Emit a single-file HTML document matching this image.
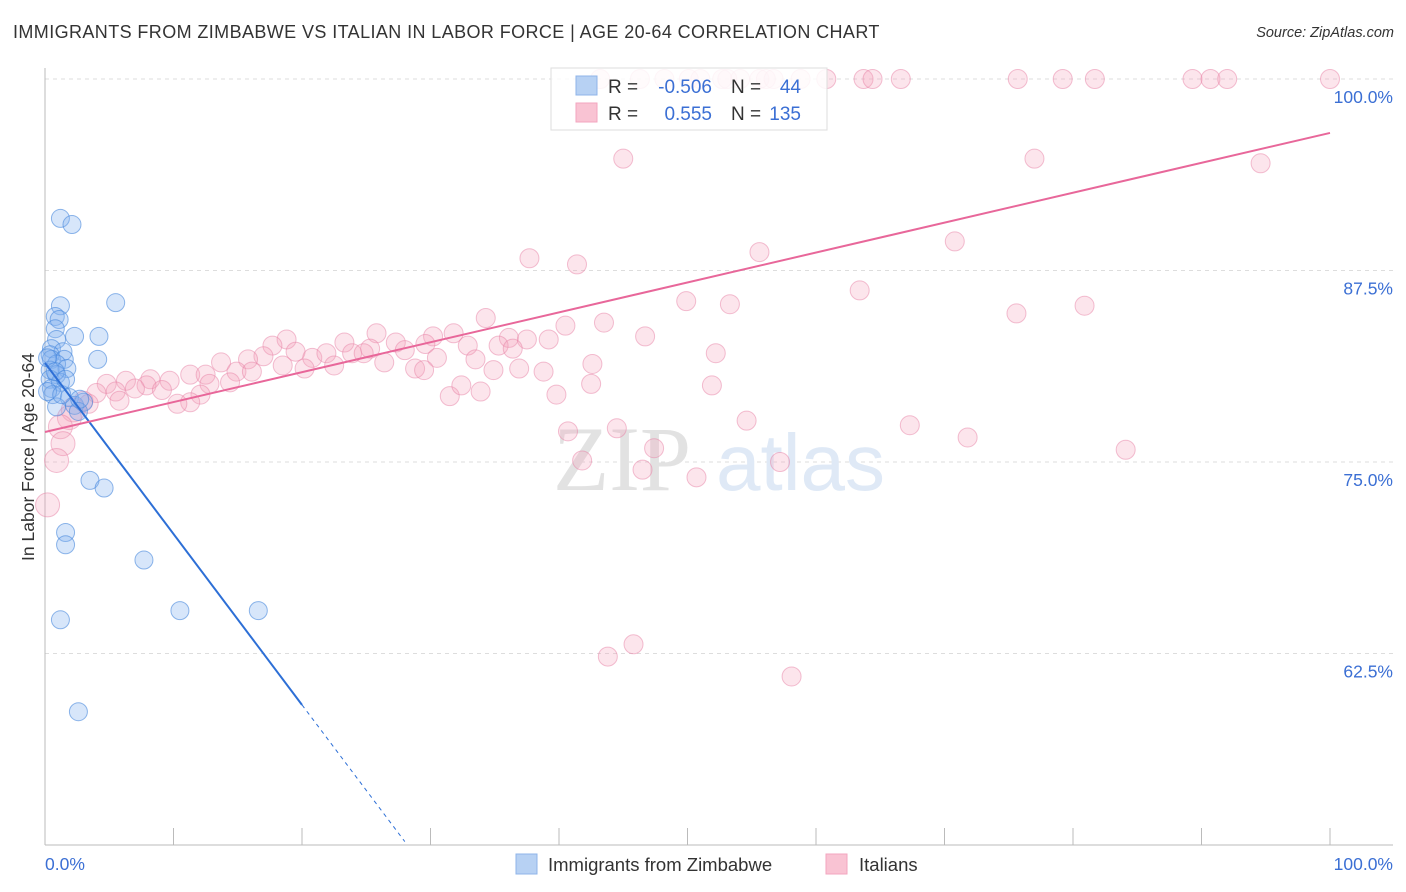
<!DOCTYPE html>
<html><head><meta charset="utf-8">
<style>
body{margin:0;background:#fff;font-family:"Liberation Sans",sans-serif;}
#wrap{position:relative;width:1406px;height:892px;overflow:hidden;}
.title{position:absolute;left:13px;top:22px;font-size:18px;color:#333;letter-spacing:0.4px;white-space:nowrap;}
.source{position:absolute;right:12px;top:25px;font-size:14.5px;color:#333;font-style:italic;}
</style></head>
<body>
<div id="wrap">
<div class="title">IMMIGRANTS FROM ZIMBABWE VS ITALIAN IN LABOR FORCE | AGE 20-64 CORRELATION CHART</div>
<div class="source">Source: ZipAtlas.com</div>
<svg id="chart" width="1406" height="892" style="position:absolute;left:0;top:0"></svg>
</div>
<script>
const yTicks=[100,87.5,75,62.5];
const yTickLabels=["100.0%","87.5%","75.0%","62.5%"];
const xTickValues=[0,10,20,30,40,50,60,70,80,90,100];
const blueX=[1.2,2.1,5.5,1.2,0.8,1.1,0.8,2.3,4.2,0.9,0.5,1.4,0.4,4.1,0.5,1.5,0.9,1.7,0.4,0.9,0.4,1.2,0.5,0.6,1.9,0.9,2.3,3.0,2.6,3.5,4.6,1.6,1.6,7.7,10.5,16.6,1.2,2.6,0.2,0.8,0.2,1.3,1.6,2.7];
const blueY=[90.9,90.5,85.4,85.2,84.5,84.3,83.7,83.2,83.2,83.0,82.4,82.2,82.0,81.7,81.7,81.7,81.4,81.1,81.0,80.7,80.4,80.2,79.8,79.4,79.2,78.6,78.7,78.9,78.3,73.8,73.3,70.4,69.6,68.6,65.3,65.3,64.7,58.7,81.8,80.9,79.6,79.4,80.4,79.1];
const pinkX=[50.1,51.0,52.7,53.1,54.1,55.6,56.1,56.7,58.8,60.8,63.7,64.4,66.6,75.7,79.2,81.7,89.3,90.7,92.0,100,43.2,46.3,48.2,
45.0,77.0,94.6,70.8,55.6,37.7,41.4,63.4,49.9,53.3,80.9,75.6,34.3,43.5,40.5,31.8,46.7,30.2,25.8,18.8,23.3,36.1,17.7,37.5,39.2,27.3,29.6,32.9,35.3,25.3,28.0,36.4,52.2,17.0,19.5,20.8,21.9,23.9,24.8,30.5,13.7,15.8,33.5,42.6,18.5,20.2,22.5,26.4,28.8,29.5,34.9,36.9,38.8,11.3,12.5,14.9,16.1,12.8,14.4,8.2,6.3,4.8,9.7,7.9,7.0,9.1,4.0,5.5,12.1,11.3,10.3,31.5,33.9,32.4,39.8,42.5,51.9,3.0,5.8,3.4,2.2,1.9,1.2,1.4,0.9,0.2,40.7,44.5,47.4,54.6,67.3,71.8,84.1,41.8,46.5,50.7,57.2,43.8,45.8,58.1];
const pinkY=[100,100,100,100,100,100,100,100,100,100,100,100,100,100,100,100,100,100,100,100,100,100,100,
94.8,94.8,94.5,89.4,88.7,88.3,87.9,86.2,85.5,85.3,85.2,84.7,84.4,84.1,83.9,83.4,83.2,83.2,83.4,83.0,82.8,83.1,82.6,83.0,83.0,82.8,82.7,82.6,82.6,82.4,82.3,82.4,82.1,81.9,82.2,81.8,82.1,82.1,82.1,81.8,81.5,81.7,81.7,81.4,81.3,81.1,81.3,81.5,81.1,81.0,81.0,81.1,80.9,80.7,80.7,80.9,80.9,80.1,80.2,80.4,80.3,80.1,80.3,80.0,79.8,79.7,79.5,79.6,79.4,78.9,78.8,79.3,79.6,80.0,79.4,80.1,80.0,79.0,79.0,78.8,78.4,77.9,77.3,76.2,75.1,72.2,77.0,77.2,75.9,77.7,77.4,76.6,75.8,75.1,74.5,74.0,75.0,62.3,63.1,61.0];
const blueFit=[81.46,-30.1];
const pinkFit=[76.96,96.48];

const X0=45,X1=1330,Y100=79,PX_PER=191.5/12.5;
const sx=v=>X0+(X1-X0)*v/100;
const sy=v=>Y100+(100-v)*PX_PER;
const svg=document.getElementById('chart');
const NS='http://www.w3.org/2000/svg';
function mk(tag,attrs,parent){const e=document.createElementNS(NS,tag);for(const k in attrs)e.setAttribute(k,attrs[k]);(parent||svg).appendChild(e);return e;}

yTicks.forEach((t,i)=>{
  const g=mk('line',{x1:X0,x2:1393,y1:sy(t),y2:sy(t),stroke:'#ddd','stroke-dasharray':'4,4','stroke-width':1});
  
  
  const tl=mk('text',{x:1393,y:sy(t)+24,'text-anchor':'end','font-size':'17.5',fill:'#3b6fd4','font-family':'Liberation Sans, sans-serif'});
  tl.textContent=yTickLabels[i];
  
  
});
const ax=mk('line',{x1:X0,x2:1393,y1:845,y2:845,stroke:'#bbb','stroke-width':1});


const ay=mk('line',{x1:X0,x2:X0,y1:68,y2:845,stroke:'#bbb','stroke-width':1});


xTickValues.forEach(v=>{
  const t=mk('line',{x1:sx(v),x2:sx(v),y1:828,y2:845,stroke:'#bbb','stroke-width':1});
  
  
});
const xl0=mk('text',{x:45,y:870,'font-size':'17.5',fill:'#3b6fd4'});xl0.textContent='0.0%';


const xl1=mk('text',{x:1393,y:870,'text-anchor':'end','font-size':'17.5',fill:'#3b6fd4'});xl1.textContent='100.0%';


const yt=mk('text',{x:0,y:0,'font-size':'17.5',fill:'#333','text-anchor':'middle',transform:'translate(34,457) rotate(-90)'});
yt.textContent='In Labor Force | Age 20-64';



const wm=mk('text',{x:553,y:490,'font-size':'92','font-family':'Liberation Serif, serif',fill:'#e2e2e2'});wm.textContent='ZIP';


const wm2=mk('text',{x:716,y:490,'font-size':'80',fill:'#dfe9f6'});wm2.textContent='atlas';



pinkX.forEach((x,i)=>{
  const c=mk('circle',{cx:sx(x),cy:sy(pinkY[i]),r:x<2.5?12:9.5,fill:'rgba(246,160,188,0.28)',stroke:'rgba(232,130,165,0.5)','stroke-width':1});
  
  
});
blueX.forEach((x,i)=>{
  const c=mk('circle',{cx:sx(x),cy:sy(blueY[i]),r:9,fill:'rgba(130,178,238,0.32)',stroke:'rgba(70,135,220,0.6)','stroke-width':1});
  
  
});
const bAt=x=>blueFit[0]+(blueFit[1]-blueFit[0])*x/100;
const bl=mk('line',{x1:sx(0),y1:sy(bAt(0)),x2:sx(20),y2:sy(bAt(20)),stroke:'#2d6fd6','stroke-width':2});


const bd=mk('line',{x1:sx(20),y1:sy(bAt(20)),x2:sx(28),y2:sy(bAt(28)),stroke:'#2d6fd6','stroke-width':1,'stroke-dasharray':'4,4'});


const pl=mk('line',{x1:sx(0),y1:sy(pinkFit[0]),x2:sx(100),y2:sy(pinkFit[1]),stroke:'#e8679a','stroke-width':2});



const lg=mk('g',{});


mk('rect',{x:551,y:68,width:276,height:62,fill:'rgba(255,255,255,0.85)',stroke:'#ddd'},lg);
mk('rect',{x:576,y:76,width:21,height:19,fill:'#b7d1f3',stroke:'#8fb4e8'},lg);
mk('rect',{x:576,y:103,width:21,height:19,fill:'#f9c3d3',stroke:'#f3a6bf'},lg);
function lt(x,y,s,c,a){const t=mk('text',{x:x,y:y,'font-size':'19',fill:c,'text-anchor':a||'start'},lg);t.textContent=s;return t;}
lt(608,93,'R =','#333');lt(712,93,'-0.506','#3b6fd4','end');lt(731,93,'N =','#333');lt(801,93,'44','#3b6fd4','end');
lt(608,120,'R =','#333');lt(712,120,'0.555','#3b6fd4','end');lt(731,120,'N =','#333');lt(801,120,'135','#3b6fd4','end');

const bl1=mk('g',{});


mk('rect',{x:516,y:854,width:21,height:20,fill:'#b7d1f3',stroke:'#8fb4e8'},bl1);
const t1=mk('text',{x:548,y:871,'font-size':'18.5',fill:'#333'},bl1);t1.textContent='Immigrants from Zimbabwe';
const bl2=mk('g',{});


mk('rect',{x:826,y:854,width:21,height:20,fill:'#f9c3d3',stroke:'#f3a6bf'},bl2);
const t2=mk('text',{x:859,y:871,'font-size':'18.5',fill:'#333'},bl2);t2.textContent='Italians';
</script>
</body></html>
